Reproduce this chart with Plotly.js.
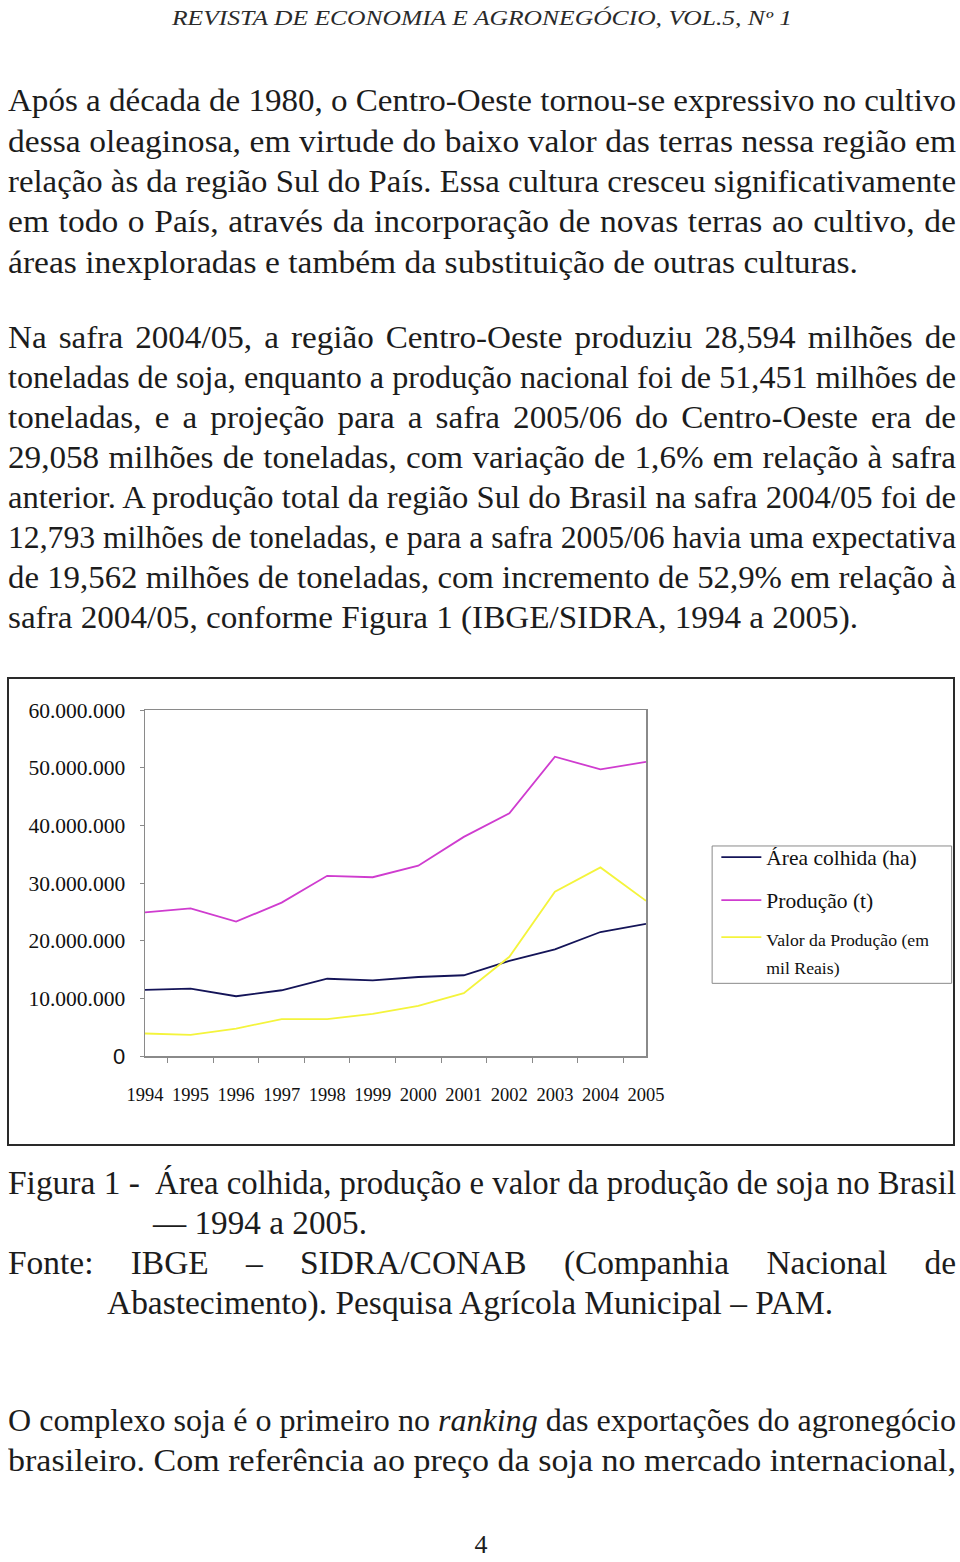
<!DOCTYPE html>
<html><head><meta charset="utf-8">
<script src="https://cdn.plot.ly/plotly-3.0.1.min.js"></script>
<style>
html,body{margin:0;padding:0;background:#fff}
body{width:960px;height:1562px;position:relative;overflow:hidden;font-family:'Liberation Serif',serif;color:#1c1c1c}
.ln{position:absolute;white-space:nowrap;transform-origin:0 0;left:0;top:0;font-family:'Liberation Serif',serif}
#chart{position:absolute;left:7px;top:677px;width:944px;height:465px;border:2px solid #2a2a2a}
</style></head><body>
<div id="txt"></div>
<div id="chart"></div>
<script>
// ---------- chart data ----------
const years = ['1994','1995','1996','1997','1998','1999','2000','2001','2002','2003','2004','2005'];
const areaColhida = [11460000,11690000,10360000,11400000,13400000,13100000,13700000,14000000,16500000,18500000,21500000,22900000];
const producao = [24900000,25600000,23300000,26600000,31250000,31000000,33000000,38000000,42100000,51900000,49700000,51000000];
const valorProducao = [3900000,3650000,4750000,6400000,6400000,7300000,8700000,10900000,17200000,28500000,32700000,26900000];
const seriesNames = ['Área colhida (ha)','Produção (t)','<span style="font-size:17.7px">Valor da Produção (em<br>mil Reais)</span>'];
const yTickVals = [0,10000000,20000000,30000000,40000000,50000000,60000000];
const yTickText = ['<span style="font-family:Liberation Sans;font-size:22px">0</span>','10.000.000','20.000.000','30.000.000','40.000.000','50.000.000','60.000.000'];

const colors = ['#141458','#cf3ccf','#f4f43c'];
const legendIds = ['legend','legend2','legend3'];
const data = [areaColhida, producao, valorProducao].map((v,i)=>({
  type:'scatter', mode:'lines', x:years, y:v, name:seriesNames[i],
  legend:legendIds[i], line:{color:colors[i], width:1.8}
}));

const legendStyle = (y)=>({x:1.1404, y:y, xanchor:'left', yanchor:'middle', borderwidth:0,
  bgcolor:'rgba(0,0,0,0)', font:{size:21.5, family:'Liberation Serif, serif', color:'#111'},
  valign:'top', itemwidth:40});

const layout = {
  width:944, height:465,
  margin:{l:136, t:31, r:307, b:88, pad:0},
  paper_bgcolor:'#fff', plot_bgcolor:'#fff',
  font:{family:'Liberation Serif, Times New Roman, serif', color:'#111'},
  showlegend:true, hovermode:false,
  xaxis:{type:'category', showgrid:false, zeroline:false, showline:true, mirror:true,
    linecolor:'#8a8a8a', linewidth:1.5, ticks:'outside', tickson:'boundaries', ticklen:5,
    tickcolor:'#8a8a8a', tickfont:{size:18.5}, tickangle:0, ticklabelstandoff:21},
  yaxis:{range:[0,60000000], tickmode:'array', tickvals:yTickVals, ticktext:yTickText,
    showgrid:false, zeroline:false, showline:true, mirror:true, linecolor:'#8a8a8a', linewidth:1.5,
    ticks:'outside', ticklen:4, tickcolor:'#8a8a8a', tickfont:{size:21.5}, ticklabelstandoff:10},
  legend:legendStyle(0.5748),
  legend2:legendStyle(0.4506),
  legend3:legendStyle(0.3029),
  shapes:[{type:'rect', xref:'paper', yref:'paper', x0:1.132, x1:1.610, y0:0.210, y1:0.607,
    line:{color:'#8a8a8a', width:1}, fillcolor:'rgba(0,0,0,0)', layer:'below'}]
};
Plotly.newPlot('chart', data, layout, {staticPlot:true, displayModeBar:false});

// ---------- page text ----------
const fsz = {H:20, A:31, B:31, C:33, D:31, N:26};
const lines = [
 {g:'H', it:1, fit:1, x0:172, x1:792, y:17, t:'REVISTA DE ECONOMIA E AGRONEGÓCIO, VOL.5, Nº 1'},
 {g:'A', j:1, x0:8, x1:956, y:100, t:'Após a década de 1980, o Centro-Oeste tornou-se expressivo no cultivo'},
 {g:'A', j:1, x0:8, x1:956, y:141, t:'dessa oleaginosa, em virtude do baixo valor das terras nessa região em'},
 {g:'A', j:1, x0:8, x1:956, y:181, t:'relação às da região Sul do País. Essa cultura cresceu significativamente'},
 {g:'A', j:1, x0:8, x1:956, y:221, t:'em todo o País, através da incorporação de novas terras ao cultivo, de'},
 {g:'A', ref:1, x0:8, x1:858, y:262, t:'áreas inexploradas e também da substituição de outras culturas.'},
 {g:'B', j:1, x0:8, x1:956, y:337, t:'Na safra 2004/05, a região Centro-Oeste produziu 28,594 milhões de'},
 {g:'B', j:1, x0:8, x1:956, y:377, t:'toneladas de soja, enquanto a produção nacional foi de 51,451 milhões de'},
 {g:'B', j:1, x0:8, x1:956, y:417, t:'toneladas, e a projeção para a safra 2005/06 do Centro-Oeste era de'},
 {g:'B', j:1, x0:8, x1:956, y:457, t:'29,058 milhões de toneladas, com variação de 1,6% em relação à safra'},
 {g:'B', j:1, x0:8, x1:956, y:497, t:'anterior. A produção total da região Sul do Brasil na safra 2004/05 foi de'},
 {g:'B', j:1, x0:8, x1:956, y:537, t:'12,793 milhões de toneladas, e para a safra 2005/06 havia uma expectativa'},
 {g:'B', j:1, x0:8, x1:956, y:577, t:'de 19,562 milhões de toneladas, com incremento de 52,9% em relação à'},
 {g:'B', ref:1, x0:8, x1:858, y:617, t:'safra 2004/05, conforme Figura 1 (IBGE/SIDRA, 1994 a 2005).'},
 {g:'C', x0:8, y:1184, t:'Figura 1 -'},
 {g:'C', j:1, x0:155, x1:956, y:1184, t:'Área colhida, produção e valor da produção de soja no Brasil'},
 {g:'C', fit:1, x0:153, x1:367, y:1224, t:'— 1994 a 2005.'},
 {g:'C', j:1, x0:8, x1:956, y:1264, t:'Fonte: IBGE – SIDRA/CONAB (Companhia Nacional de'},
 {g:'C', ref:1, x0:107, x1:833, y:1304, t:'Abastecimento). Pesquisa Agrícola Municipal – PAM.'},
 {g:'D', fit:1, x0:8, x1:956, y:1420, t:'O complexo soja é o primeiro no <i>ranking</i> das exportações do agronegócio'},
 {g:'D', fit:1, x0:8, x1:956, y:1460, t:'brasileiro. Com referência ao preço da soja no mercado internacional,'},
 {g:'N', c:481, y:1544, lh:18, t:'4'}
];
const host = document.getElementById('txt');
lines.forEach(o=>{
  const d=document.createElement('div'); d.className='ln';
  const fs=fsz[o.g]; o.fs=fs; o.lhv=o.lh||fs*1.2;
  d.style.fontSize=fs+'px'; d.style.lineHeight=o.lhv+'px';
  if(o.it) d.style.fontStyle='italic';
  if(o.g==='H') d.style.color='#2a2a2a';
  d.innerHTML=o.t; host.appendChild(d); o.d=d;
  o.w=d.getBoundingClientRect().width;
});
const gs={};
lines.forEach(o=>{ if(o.ref) gs[o.g]=(o.x1-o.x0)/o.w; });
lines.forEach(o=>{
  let s=gs[o.g]||1, ws=0, x0=o.x0;
  if(o.fit||o.ref) s=(o.x1-o.x0)/o.w;
  else if(o.j){
    const W=o.x1-o.x0;
    if(o.w*s>W) s=W/o.w;
    else { const n=(o.t.match(/ /g)||[]).length; ws=(W/s-o.w)/n; }
  }
  if(o.c!==undefined) x0=o.c-o.w*s/2;
  const baseOff=(o.lhv-1.107*o.fs)/2+0.891*o.fs;
  o.d.style.wordSpacing=ws+'px';
  o.d.style.left=x0+'px';
  o.d.style.top=(o.y+1.5+0.3*o.fs-baseOff)+'px';
  o.d.style.transform='scaleX('+s+')';
});
</script>
</body></html>
